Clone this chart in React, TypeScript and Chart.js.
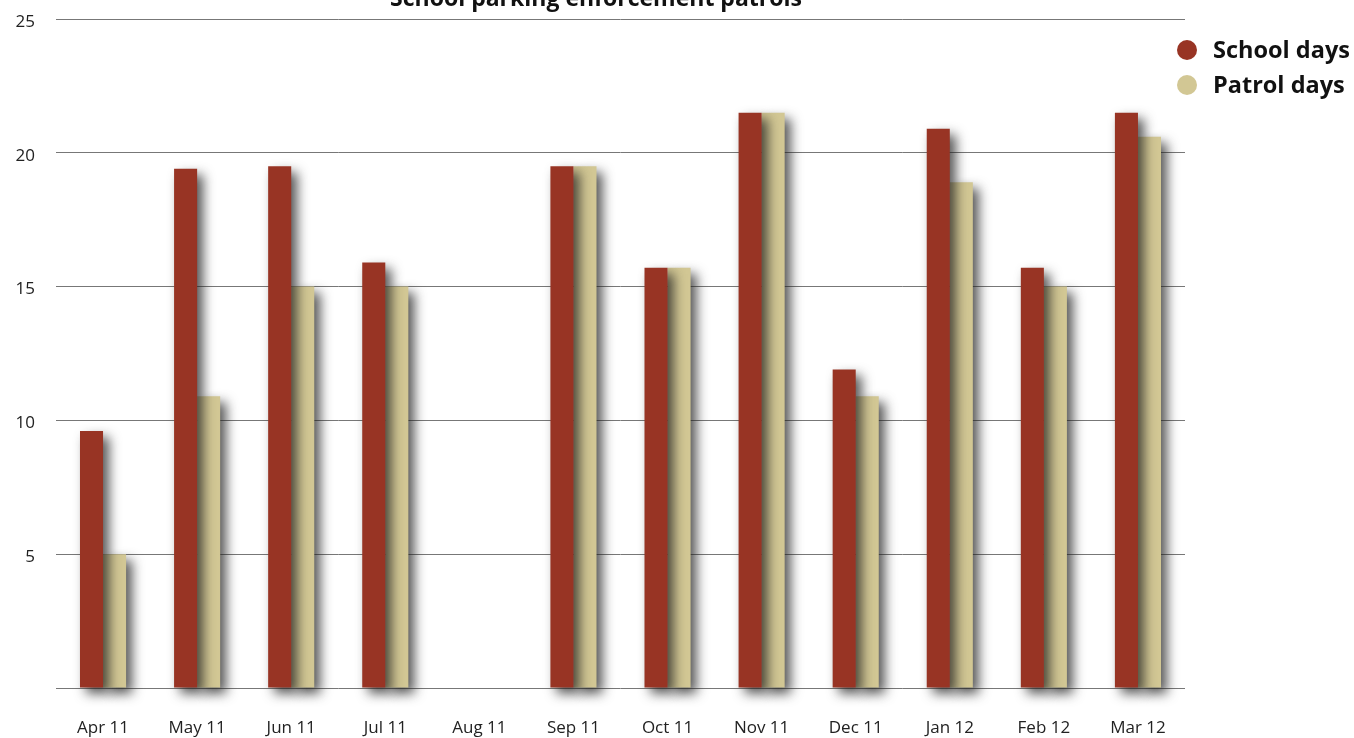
import React, { useEffect, useRef } from "react";
import { Chart, registerables } from "chart.js";

Chart.register(...registerables);

const months = ["Apr 11", "May 11", "Jun 11", "Jul 11", "Aug 11", "Sep 11", "Oct 11", "Nov 11", "Dec 11", "Jan 12", "Feb 12", "Mar 12"];
const schoolDays = [9.6, 19.4, 19.5, 15.9, 0, 19.5, 15.7, 21.5, 11.9, 20.9, 15.7, 21.5];
const patrolDays = [5, 10.9, 15, 15, 0, 19.5, 15.7, 21.5, 10.9, 18.9, 15, 20.6];
const seriesNames = ["School days", "Patrol days"];
const seriesColors = ["#983424", "#D2C794"];
const chartTitle = "School parking enforcement patrols";

const FONT = "'Open Sans', 'Noto Sans', sans-serif";

// Soft drop shadow under every bar
const barShadow = {
  id: "barShadow",
  beforeDatasetDraw(chart: any) {
    const ctx = chart.ctx;
    ctx.save();
    ctx.shadowColor = "rgba(30,30,30,0.75)";
    ctx.shadowBlur = 12;
    ctx.shadowOffsetX = 6;
    ctx.shadowOffsetY = 6;
  },
  afterDatasetDraw(chart: any) {
    chart.ctx.restore();
  },
};

// Title (partly above the canvas top) and the dot legend on the right
const decorations = {
  id: "decorations",
  afterDraw(chart: any) {
    const ctx = chart.ctx;
    ctx.save();
    ctx.fillStyle = "#111";
    ctx.font = `bold 23px ${FONT}`;
    ctx.textAlign = "center";
    ctx.textBaseline = "alphabetic";
    ctx.fillText(chartTitle, 596, 6);

    chart.data.datasets.forEach((ds: any, i: number) => {
      const y = 50 + i * 35;
      ctx.beginPath();
      ctx.fillStyle = ds.backgroundColor;
      ctx.arc(1187, y, 10, 0, Math.PI * 2);
      ctx.fill();
      ctx.fillStyle = "#111";
      ctx.font = `bold 23.5px ${FONT}`;
      ctx.textAlign = "left";
      ctx.textBaseline = "middle";
      ctx.fillText(ds.label, 1213, y + 1);
    });
    ctx.restore();
  },
};

export default function App() {
  const ref = useRef<HTMLCanvasElement>(null);

  useEffect(() => {
    if (!ref.current) return;
    const chart = new Chart(ref.current, {
      type: "bar",
      data: {
        labels: months,
        datasets: [
          { label: seriesNames[0], data: schoolDays, backgroundColor: seriesColors[0], clip: false as any },
          { label: seriesNames[1], data: patrolDays, backgroundColor: seriesColors[1], clip: false as any },
        ],
      },
      options: {
        animation: false,
        responsive: false,
        layout: { padding: { top: 19, right: 169, left: 0, bottom: 0 } },
        datasets: { bar: { categoryPercentage: 0.49, barPercentage: 1 } },
        plugins: {
          legend: { display: false },
          title: { display: false },
          tooltip: { enabled: false },
        },
        scales: {
          x: {
            grid: { display: false, drawTicks: false },
            border: { display: false },
            ticks: { color: "#222", font: { family: FONT, size: 17 }, padding: 30, maxRotation: 0 },
            afterFit(scale: any) {
              scale.height = 50;
              scale.paddingLeft = 0;
              scale.paddingRight = 0;
            },
          },
          y: {
            min: 0,
            max: 25,
            grid: { color: "#777", lineWidth: 1, drawTicks: false },
            border: { display: false },
            ticks: {
              stepSize: 5,
              color: "#222",
              font: { family: FONT, size: 17 },
              padding: 21,
              labelOffset: 3,
              callback: (v: any) => (v === 0 ? "" : String(v)),
            },
            afterFit(scale: any) {
              scale.width = 56;
              scale.paddingTop = 0;
              scale.paddingBottom = 0;
            },
          },
        },
      },
      plugins: [barShadow, decorations],
    });
    return () => chart.destroy();
  }, []);

  return (
    <div style={{ position: "absolute", left: 0, top: 0, width: 1354, height: 738, background: "#fff" }}>
      <canvas ref={ref} width={1354} height={738} style={{ display: "block" }} />
    </div>
  );
}
